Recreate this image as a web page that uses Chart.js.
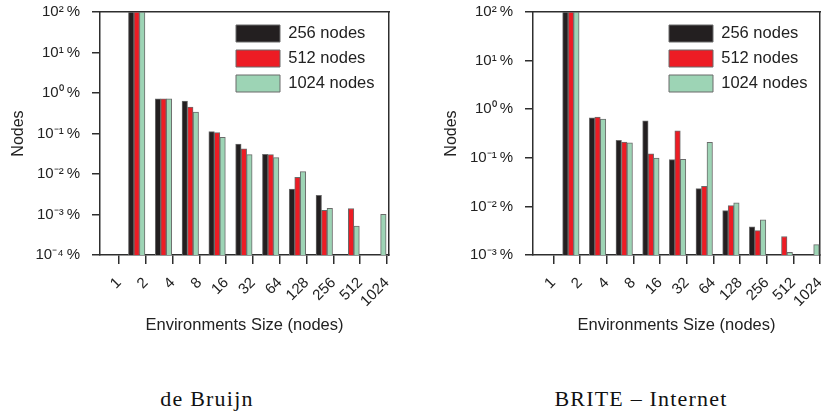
<!DOCTYPE html>
<html>
<head>
<meta charset="utf-8">
<script src="https://cdn.jsdelivr.net/npm/chart.js@4.4.1/dist/chart.umd.min.js"></script>
<style>
  html, body { margin: 0; padding: 0; background: #ffffff; }
  #wrap { position: relative; width: 821px; height: 412px; overflow: hidden; background: #fff; }
  canvas { position: absolute; top: 0; }
  .cap { position: absolute; top: 388px; transform: translateX(-50%); font-family: 'Liberation Serif', 'DejaVu Serif', serif;
         font-size: 22px; line-height: 22px; letter-spacing: 1.2px; white-space: nowrap; color: #111; }
</style>
</head>
<body>
<div id="wrap">
  <canvas id="c1" width="410" height="345" style="left:0px"></canvas>
  <canvas id="c2" width="388" height="345" style="left:433px"></canvas>
  <div class="cap" id="cap1" style="left:207px"></div>
  <div class="cap" id="cap2" style="left:641px"></div>
</div>
<script>
// ---- data ----
const categories = ['1', '2', '4', '8', '16', '32', '64', '128', '256', '512', '1024'];
const seriesNames = ['256 nodes', '512 nodes', '1024 nodes'];

// de Bruijn (% of nodes)
const deBruijn256  = [null, 100, 0.72, 0.63, 0.111, 0.055, 0.0306, 0.00427, 0.00297, null, null];
const deBruijn512  = [null, 100, 0.72, 0.45, 0.105, 0.042, 0.0300, 0.00828, 0.00127, 0.00141, null];
const deBruijn1024 = [null, 100, 0.72, 0.34, 0.080, 0.030, 0.0253, 0.0114, 0.00142, 0.00052, 0.00101];

// BRITE - Internet (% of nodes)
const brite256  = [null, 100, 0.666, 0.228, 0.578, 0.0914, 0.0232, 0.0082, 0.00379, null, null];
const brite512  = [null, 100, 0.690, 0.211, 0.120, 0.360, 0.0259, 0.0104, 0.00318, 0.0024, null];
const brite1024 = [null, 100, 0.627, 0.204, 0.099, 0.093, 0.207, 0.0118, 0.00529, 0.00114, 0.00164];

const deBruijnTicks = [1e-4, 1e-3, 1e-2, 1e-1, 1e0, 1e1, 1e2];
const briteTicks    = [1e-3, 1e-2, 1e-1, 1e0, 1e1, 1e2];

const xTitle = 'Environments Size (nodes)';
const yTitle = 'Nodes';
const captions = ['de Bruijn', 'BRITE \u2013 Internet'];

// ---- rendering ----
Chart.defaults.font.family = "'Liberation Sans', Arial, Helvetica, sans-serif";
Chart.defaults.color = '#222';

const SUP = {'-': '\u207B', '0': '\u2070', '1': '\u00B9', '2': '\u00B2', '3': '\u00B3', '4': '\u2074'};
function fmtTick(v) {
  const e = String(Math.round(Math.log10(v)));
  return '10' + e.split('').map(c => SUP[c]).join('') + '\u2009%';
}

const COLORS = ['#231f20', '#ed1c24', '#9dd4b5'];
const AXIS = '#2e2e2e';
const BAR_SHIFT = 0.34;

function makeChart(id, series, yTicks, xMin, xMax, padRight) {
  return new Chart(document.getElementById(id), {
    type: 'bar',
    data: {
      datasets: series.map((vals, k) => ({
        label: seriesNames[k],
        data: vals.map((v, i) => ({x: i, y: v})),
        backgroundColor: COLORS[k],
        borderColor: '#6b6b6b',
        borderWidth: 1,
        borderSkipped: 'bottom',
        barThickness: 5.5,
        xAxisID: 'xb',
        yAxisID: 'y'
      }))
    },
    options: {
      responsive: false,
      animation: false,
      events: [],
      layout: {padding: {top: 12, right: padRight, left: 0, bottom: 0}},
      scales: {
        xb: {type: 'linear', display: false, offset: false, grid: {offset: false},
             min: xMin + BAR_SHIFT, max: xMax + BAR_SHIFT},
        x: {
          type: 'linear', position: 'bottom', offset: false, min: xMin, max: xMax,
          afterBuildTicks: s => { s.ticks = categories.map((c, i) => ({value: i})); },
          afterFit: s => { s.height = 90; s.paddingLeft = 0; s.paddingRight = 0; },
          ticks: {callback: v => categories[v], autoSkip: false, maxRotation: 45, minRotation: 45,
                  padding: 10, font: {size: 15}, color: '#222'},
          grid: {display: true, offset: false, drawOnChartArea: false, drawTicks: true, tickLength: 9,
                 color: AXIS, lineWidth: 1.5},
          border: {display: true, color: AXIS, width: 1.5},
          title: {display: true, text: xTitle, font: {size: 16.5}, color: '#222', padding: {top: 0, bottom: 10}}
        },
        x2: {
          type: 'linear', position: 'top', offset: false, min: 0, max: 1,
          ticks: {display: false}, grid: {display: false, offset: false},
          border: {display: true, color: AXIS, width: 1.5},
          afterFit: s => { s.height = 0; s.paddingLeft = 0; s.paddingRight = 0; }
        },
        y: {
          type: 'logarithmic', position: 'left', min: yTicks[0], max: yTicks[yTicks.length - 1],
          afterBuildTicks: s => { s.ticks = yTicks.map(v => ({value: v})); },
          afterFit: s => { s.width = 100; s.paddingTop = 0; s.paddingBottom = 0; },
          ticks: {callback: v => fmtTick(v), font: {size: 15}, color: '#222', padding: 12},
          grid: {display: true, drawOnChartArea: false, drawTicks: true, tickLength: 8, color: AXIS, lineWidth: 1.5},
          border: {display: true, color: AXIS, width: 1.5},
          title: {display: true, text: yTitle, font: {size: 16}, color: '#222', padding: {top: 9, bottom: 0}}
        },
        y2: {
          type: 'linear', position: 'right', min: 0, max: 1,
          ticks: {display: false}, grid: {display: false},
          border: {display: true, color: AXIS, width: 1.5},
          afterFit: s => { s.width = 0; s.paddingTop = 0; s.paddingBottom = 0; }
        }
      },
      plugins: {
        legend: {
          position: 'chartArea', align: 'start',
          labels: {boxWidth: 44, boxHeight: 17, padding: 8, font: {size: 16.5}, color: '#222'}
        },
        tooltip: {enabled: false},
        title: {display: false}
      }
    },
    plugins: [{
      id: 'legendPlace',
      afterLayout(chart) {
        const lg = chart.legend, a = chart.chartArea;
        lg.left = a.left + 128;
        lg.top = a.top + 5;
        lg.right = chart.width;
        lg.bottom = a.bottom;
      }
    }]
  });
}

makeChart('c1', [deBruijn256, deBruijn512, deBruijn1024], deBruijnTicks, -0.709, 10.075, 21);
makeChart('c2', [brite256, brite512, brite1024], briteTicks, -0.76, 10, 1);

document.getElementById('cap1').textContent = captions[0];
document.getElementById('cap2').textContent = captions[1];
</script>
</body>
</html>
